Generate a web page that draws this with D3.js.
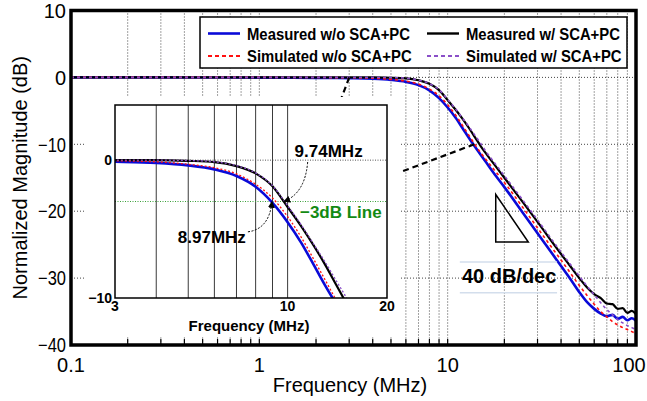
<!DOCTYPE html>
<html><head><meta charset="utf-8">
<script src="https://cdn.jsdelivr.net/npm/d3@7"></script>
<style>
body{margin:0;background:#fff}
svg{display:block}
text{font-family:"Liberation Sans",Arial,Helvetica,sans-serif}
</style>
</head><body>
<svg id="c" width="647" height="401"></svg>
<script>
// ---------------- DATA ----------------
const freq = [0.1, 0.2, 0.3, 0.5, 0.7, 1, 1.5, 2, 3, 4, 5, 6, 7, 8, 9, 10, 11, 12, 13, 14, 15, 16, 18, 20, 25, 30, 35, 40, 45, 50, 55, 60, 65, 70, 75, 80, 85, 90, 95, 100];
const measuredWo = [0, 0, 0, -0.01, -0.02, -0.03, -0.05, -0.08, -0.12, -0.2, -0.38, -0.67, -1.15, -1.93, -3.1, -4.5, -6.0, -7.6, -9.1, -10.4, -11.6, -12.7, -14.7, -16.4, -20.2, -23.3, -25.9, -28.2, -30.2, -32.1, -33.6, -34.6, -35.3, -35.7, -35.5, -36.1, -35.8, -36.3, -36.0, -36.4];
const measuredW = [0, 0, 0, 0, 0, 0, 0, 0, 0, 0, -0.05, -0.14, -0.43, -0.96, -1.9, -3.4, -4.8, -6.2, -7.6, -9.0, -10.3, -11.4, -13.3, -15.0, -18.6, -21.6, -24.2, -26.4, -28.3, -30.0, -31.4, -32.4, -33.0, -33.8, -33.9, -34.6, -34.5, -35.2, -34.9, -35.4];
const simulatedWo = [0, 0, 0, 0, 0, 0, -0.01, -0.02, -0.05, -0.12, -0.3, -0.55, -1.0, -1.75, -2.75, -4.1, -5.6, -7.2, -8.7, -10.1, -11.3, -12.3, -14.1, -15.7, -19.4, -22.5, -25.1, -27.3, -29.3, -31.1, -32.6, -33.9, -35.0, -35.8, -36.5, -37.0, -37.4, -37.7, -38.0, -38.3];
const simulatedW = [0, 0, 0, 0, 0, 0, 0, 0, 0, 0, -0.03, -0.12, -0.4, -0.93, -1.85, -3.3, -4.7, -6.1, -7.4, -8.7, -9.9, -11.1, -13.0, -14.7, -18.3, -21.3, -23.9, -26.1, -28.0, -29.7, -31.2, -32.5, -33.7, -34.7, -35.5, -36.2, -36.7, -37.1, -37.4, -37.7];

const seriesNames = ["Measured w/o SCA+PC", "Simulated w/o SCA+PC", "Measured w/ SCA+PC", "Simulated w/ SCA+PC"];
const xTickValues = [0.1, 1, 10, 100];
const xTickLabels = ["0.1", "1", "10", "100"];
const yTickValues = [10, 0, -10, -20, -30, -40];
const yGridValues = [0, -10, -20, -30];
const insetXTicks = [3, 10, 20];
const insetYTicks = [0, -10];
const insetGridValues = [4, 5, 6, 7, 8, 9, 10];
const cutoffWo = 8.97, cutoffW = 9.74;

// ---------------- SETUP ----------------
const svg = d3.select("#c");
const W = 647, H = 401;
const x = d3.scaleLog().domain([0.1, 100]).range([71, 636]);
const y = d3.scaleLinear().domain([-40, 10]).range([345, 10.5]);
const fmt = v => (v < 0 ? "\u2212" + Math.abs(v) : String(v));

const defs = svg.append("defs");
defs.append("clipPath").attr("id", "mainClip").append("rect")
  .attr("x", x.range()[0]).attr("y", y.range()[1])
  .attr("width", x.range()[1] - x.range()[0]).attr("height", y.range()[0] - y.range()[1]);
defs.append("marker").attr("id", "ah").attr("viewBox", "0 0 10 10")
  .attr("refX", 9).attr("refY", 5).attr("markerWidth", 7).attr("markerHeight", 7)
  .attr("markerUnits", "userSpaceOnUse").attr("orient", "auto")
  .append("path").attr("d", "M0,0 L10,5 L0,10 z").attr("fill", "#000");

function condense(sel, f) {
  sel.each(function () {
    const L = this.getComputedTextLength();
    this.setAttribute("textLength", L * f);
    this.setAttribute("lengthAdjust", "spacingAndGlyphs");
  });
}

const rows = freq.map((f, i) => ({ f, a: measuredWo[i], b: simulatedWo[i], c: measuredW[i], d: simulatedW[i] }));

// ---------------- MAIN GRID ----------------
const minorVals = [];
[0.1, 1, 10].forEach(d => { for (let k = 1; k <= 9; k++) minorVals.push(+(k * d).toPrecision(3)); });
minorVals.push(100);

const grid = svg.append("g");
grid.selectAll("line.v").data(minorVals.filter(v => v > 0.1 && v < 100)).join("line")
  .attr("x1", d => x(d)).attr("x2", d => x(d))
  .attr("y1", y.range()[1]).attr("y2", y.range()[0])
  .attr("stroke", "#444").attr("stroke-width", 1).attr("stroke-dasharray", "1,2");
grid.selectAll("line.h").data(yGridValues).join("line")
  .attr("x1", x.range()[0]).attr("x2", x.range()[1])
  .attr("y1", d => y(d)).attr("y2", d => y(d))
  .attr("stroke", "#444").attr("stroke-width", 1).attr("stroke-dasharray", "1,2");
grid.selectAll("line.t").data(minorVals.filter(v => v > 0.1 && v < 100)).join("line")
  .attr("x1", d => x(d)).attr("x2", d => x(d))
  .attr("y1", y.range()[0]).attr("y2", y.range()[0] - 6)
  .attr("stroke", "#000").attr("stroke-width", 1.2);

// ---------------- MAIN CURVES ----------------
const lineMain = key => d3.line().x(d => x(d.f)).y(d => y(d[key])).curve(d3.curveMonotoneX);
const curves = svg.append("g").attr("clip-path", "url(#mainClip)");
curves.append("path").datum(rows).attr("d", lineMain("a")).attr("fill", "none").attr("stroke", "#0a0ad8").attr("stroke-width", 2.6);
curves.append("path").datum(rows).attr("d", lineMain("c")).attr("fill", "none").attr("stroke", "#000").attr("stroke-width", 2.2);
curves.append("path").datum(rows).attr("d", lineMain("b")).attr("fill", "none").attr("stroke", "#ff1010").attr("stroke-width", 1.6).attr("stroke-dasharray", "3,3");
curves.append("path").datum(rows).attr("d", lineMain("d")).attr("fill", "none").attr("stroke", "#8a4fc8").attr("stroke-width", 1.6).attr("stroke-dasharray", "3,3");

// ---------------- MAIN ANNOTATIONS ----------------
const ann = svg.append("g");
const zoomLines = [[[3, 0], [2.67, -3.8]], [[5.8, -14], [13.85, -10]]];
ann.selectAll("line.z").data(zoomLines).join("line")
  .attr("x1", d => x(d[0][0])).attr("y1", d => y(d[0][1]))
  .attr("x2", d => x(d[1][0])).attr("y2", d => y(d[1][1]))
  .attr("stroke", "#000").attr("stroke-width", 2.2).attr("stroke-dasharray", "6,4");
const tri = [[18, -17.5], [18, -24.6], [26.8, -24.6]];
ann.append("path").attr("d", d3.line().x(d => x(d[0])).y(d => y(d[1]))(tri) + "Z")
  .attr("fill", "none").attr("stroke", "#000").attr("stroke-width", 1.5);
[-27.6, -32.2].forEach(v => {
  ann.append("line").attr("x1", x(11.6)).attr("x2", x(38.1)).attr("y1", y(v)).attr("y2", y(v))
    .attr("stroke", "#d3deec").attr("stroke-width", 1.5);
});
ann.append("text").attr("x", x(21.2)).attr("y", y(-30.8)).attr("text-anchor", "middle")
  .attr("font-size", 20).attr("font-weight", "bold").text("40 dB/dec");

// ---------------- INSET ----------------
const ix = d3.scaleLog().domain([3, 20]).range([115, 387]);
const iy = d3.scaleLinear().domain([-10, 4]).range([298, 105]);
defs.append("clipPath").attr("id", "insetClip").append("rect")
  .attr("x", 115).attr("y", 105).attr("width", 272).attr("height", 193);
const inset = svg.append("g");
inset.append("rect").attr("x", 86).attr("y", 97).attr("width", 314).attr("height", 240).attr("fill", "#fff");
inset.selectAll("line.ig").data(insetGridValues).join("line")
  .attr("x1", d => ix(d)).attr("x2", d => ix(d)).attr("y1", iy.range()[1]).attr("y2", iy.range()[0])
  .attr("stroke", "#3a3a3a").attr("stroke-width", 1);
inset.append("line").attr("x1", ix.range()[0]).attr("x2", ix.range()[1]).attr("y1", iy(0)).attr("y2", iy(0))
  .attr("stroke", "#555").attr("stroke-width", 1).attr("stroke-dasharray", "1,1.5");
inset.append("line").attr("x1", ix.range()[0]).attr("x2", ix.range()[1]).attr("y1", iy(-3)).attr("y2", iy(-3))
  .attr("stroke", "#3aa03a").attr("stroke-width", 1.2).attr("stroke-dasharray", "1,1.5");
const irows = rows.filter(r => r.f >= 2 && r.f <= 30);
const lineInset = key => d3.line().x(d => ix(d.f)).y(d => iy(d[key])).curve(d3.curveMonotoneX);
const ic = inset.append("g").attr("clip-path", "url(#insetClip)");
ic.append("path").datum(irows).attr("d", lineInset("a")).attr("fill", "none").attr("stroke", "#0a0ad8").attr("stroke-width", 2.6);
ic.append("path").datum(irows).attr("d", lineInset("c")).attr("fill", "none").attr("stroke", "#000").attr("stroke-width", 2.2);
ic.append("path").datum(irows).attr("d", lineInset("b")).attr("fill", "none").attr("stroke", "#ff1010").attr("stroke-width", 1.3).attr("stroke-dasharray", "2,2");
ic.append("path").datum(irows).attr("d", lineInset("d")).attr("fill", "none").attr("stroke", "#8a4fc8").attr("stroke-width", 1.3).attr("stroke-dasharray", "2,2");
inset.append("rect").attr("x", 115).attr("y", 105).attr("width", 272).attr("height", 193)
  .attr("fill", "none").attr("stroke", "#000").attr("stroke-width", 1.5);
inset.selectAll("text.ixl").data(insetXTicks).join("text")
  .attr("x", d => ix(d)).attr("y", 311).attr("text-anchor", "middle")
  .attr("font-size", 14).attr("font-weight", "bold").text(d => d);
inset.selectAll("text.iyl").data(insetYTicks).join("text")
  .attr("x", 112).attr("y", d => iy(d)).attr("dy", "0.35em").attr("text-anchor", "end")
  .attr("font-size", 14).attr("font-weight", "bold").text(fmt);
inset.append("text").attr("x", 249).attr("y", 331).attr("text-anchor", "middle")
  .attr("font-size", 15).attr("font-weight", "bold").text("Frequency (MHz)");
inset.append("text").attr("x", ix(10.5)).attr("y", iy(0.2)).attr("font-size", 17).attr("font-weight", "bold").text(cutoffW.toFixed(2) + "MHz");
inset.append("text").attr("x", ix(4.65)).attr("y", iy(-6.0)).attr("font-size", 17).attr("font-weight", "bold").text(cutoffWo.toFixed(2) + "MHz");
inset.append("text").attr("x", ix(10.9)).attr("y", iy(-4.22)).attr("font-size", 17).attr("font-weight", "bold").attr("fill", "#138a13").text("\u22123dB Line");
const arrows = [
  { s: [11.5, -0.14], c: [11.3, -2.4], e: [cutoffW, -3] },
  { s: [7.58, -5.2], c: [8.8, -5.0], e: [cutoffWo, -3] }
];
arrows.forEach(a => {
  const p = d3.path();
  p.moveTo(ix(a.s[0]), iy(a.s[1]));
  p.quadraticCurveTo(ix(a.c[0]), iy(a.c[1]), ix(a.e[0]), iy(a.e[1]));
  inset.append("path").attr("d", p.toString()).attr("fill", "none").attr("stroke", "#000")
    .attr("stroke-width", 1).attr("stroke-dasharray", "2,1.5").attr("marker-end", "url(#ah)");
});

// ---------------- AXES FRAME & LABELS ----------------
svg.append("rect").attr("x", x.range()[0]).attr("y", y.range()[1])
  .attr("width", x.range()[1] - x.range()[0]).attr("height", y.range()[0] - y.range()[1])
  .attr("fill", "none").attr("stroke", "#000").attr("stroke-width", 3.5);

svg.selectAll("text.xt").data(xTickValues).join("text")
  .attr("x", (d) => Math.min(x(d), W - 18)).attr("y", 372).attr("text-anchor", "middle")
  .attr("font-size", 20).text((d, i) => xTickLabels[i]);
const ytl = svg.selectAll("text.yt").data(yTickValues).join("text")
  .attr("x", 66).attr("y", d => y(d)).attr("dy", "0.36em").attr("text-anchor", "end")
  .attr("font-size", 20).text(fmt);
ytl.filter(d => d < 0).each(function () {
  const L = this.getComputedTextLength();
  this.setAttribute("textLength", L - 6);
  this.setAttribute("lengthAdjust", "spacingAndGlyphs");
});
svg.append("text").attr("x", 350).attr("y", 392).attr("text-anchor", "middle")
  .attr("font-size", 20).text("Frequency (MHz)");
svg.append("text").attr("transform", `translate(27,${(y.range()[0] + y.range()[1]) / 2}) rotate(-90)`)
  .attr("text-anchor", "middle").attr("font-size", 20).text("Normalized Magnitude (dB)");

// ---------------- LEGEND ----------------
const lg = svg.append("g");
lg.append("rect").attr("x", 200).attr("y", 17).attr("width", 427).attr("height", 51)
  .attr("fill", "#fff").attr("stroke", "#000").attr("stroke-width", 1.5);
const legendItems = [
  { name: seriesNames[0], col: 0, row: 0, color: "#0a0ad8", dash: null, w: 2.6 },
  { name: seriesNames[1], col: 0, row: 1, color: "#ff1010", dash: "4,3", w: 1.8 },
  { name: seriesNames[2], col: 1, row: 0, color: "#000", dash: null, w: 2.4 },
  { name: seriesNames[3], col: 1, row: 1, color: "#8a4fc8", dash: "4,3", w: 1.8 }
];
const colX = [208, 427], rowY = [33.5, 56];
legendItems.forEach(it => {
  const lx = colX[it.col], ly = rowY[it.row];
  const l = lg.append("line").attr("x1", lx).attr("x2", lx + 32).attr("y1", ly).attr("y2", ly)
    .attr("stroke", it.color).attr("stroke-width", it.w);
  if (it.dash) l.attr("stroke-dasharray", it.dash);
  const t = lg.append("text").attr("x", lx + 39).attr("y", ly + 6).attr("font-size", 16.5)
    .attr("font-weight", "bold").text(it.name);
  condense(t, 0.9);
});
</script>
</body></html>
